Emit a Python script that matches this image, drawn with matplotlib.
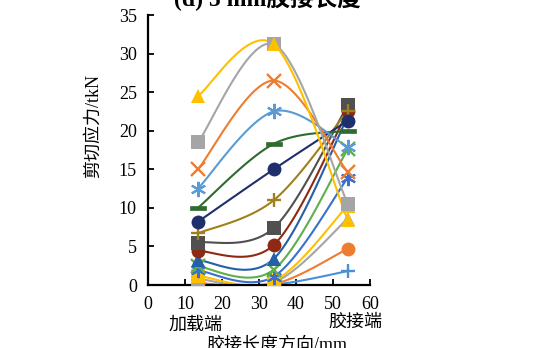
import numpy as np
import matplotlib
matplotlib.use("Agg")
import matplotlib.pyplot as plt

# ---- data ----
x_pos = [13.5, 34.0, 54.0]
series_colors = ["#FFC000", "#A5A5A5", "#ED7D31", "#5B9BD5", "#2E6B2E", "#1F2F6B",
                 "#A0801E", "#505050", "#8E2A14", "#2360A8", "#5DB04A", "#3A6FD0",
                 "#FFC000", "#A5A5A5", "#ED7D31", "#4A90D9"]
series_markers = ["^", "s", "x", "ast", "dash", "o", "+", "s", "o", "^", "x", "ast",
                  "s", "^", "o", "+"]
series_values = [
    [24.5, 31.2, 8.4],
    [18.5, 31.2, 10.5],
    [15.0, 26.5, 14.6],
    [12.5, 22.5, 17.9],
    [10.0, 18.3, 20.0],
    [8.2, 15.0, 21.3],
    [6.7, 11.0, 22.6],
    [5.5, 7.4, 23.3],
    [4.4, 5.2, 22.5],
    [3.2, 3.4, 21.8],
    [2.4, 2.0, 17.6],
    [1.9, 1.1, 13.9],
    [1.2, 0.5, 10.3],
    [0.8, 0.3, 8.6],
    [0.25, 0.1, 4.7],
    [0.05, 0.05, 1.8],
]
x_ticks = [0, 10, 20, 30, 40, 50, 60]
y_ticks = [0, 5, 10, 15, 20, 25, 30, 35]

title_text = "(d) 5 mm胶接长度"
ylabel_text = "剪切应力/tkN"
xlabel_text = "胶接长度方向/mm"
left_end_text = "加载端"
right_end_text = "胶接端"

FAM = ["Liberation Serif", "Noto Sans CJK SC"]
plt.rcParams['font.family'] = FAM


def smooth_curve(xs, ys, n=40):
    """Excel-like smoothed line (Catmull-Rom Bezier) through the data points."""
    pts = np.column_stack([xs, ys]).astype(float)
    out = []
    m = len(pts)
    for i in range(m - 1):
        p0 = pts[i - 1] if i > 0 else pts[i]
        p1 = pts[i]
        p2 = pts[i + 1]
        p3 = pts[i + 2] if i + 2 < m else pts[i + 1]
        c1 = p1 + (p2 - p0) / 6.0
        c2 = p2 - (p3 - p1) / 6.0
        t = np.linspace(0, 1, n)[:, None]
        seg = ((1 - t) ** 3) * p1 + 3 * ((1 - t) ** 2) * t * c1 + 3 * (1 - t) * t ** 2 * c2 + t ** 3 * p2
        out.append(seg if i == 0 else seg[1:])
    arr = np.vstack(out)
    return arr[:, 0], arr[:, 1]


dash_marker = [(-1, -0.32), (1, -0.32), (1, 0.32), (-1, 0.32), (-1, -0.32)]

fig = plt.figure(figsize=(5.48, 3.48), dpi=100)
ax = fig.add_axes([148 / 548, 63 / 348, 222 / 548, 270 / 348])

order = list(range(len(series_values)))[::-1]
for i in order:
    vals = series_values[i]
    c = series_colors[i]
    mk = series_markers[i]
    sx, sy = smooth_curve(x_pos, vals)
    ax.plot(sx, sy, color=c, lw=1.5, solid_capstyle='round', zorder=2)
    kw = dict(color=c, linestyle='none', zorder=3)
    if mk == "ast":
        ax.plot(x_pos, vals, marker=(6, 2, 0), markersize=11, markeredgewidth=1.5, **kw)
    elif mk == "dash":
        ax.plot(x_pos, vals, marker=dash_marker, markersize=11, markeredgewidth=0.5, **kw)
    elif mk in ("x", "+"):
        ax.plot(x_pos, vals, marker=mk, markersize=10.5, markeredgewidth=1.7, **kw)
    elif mk == "o":
        ax.plot(x_pos, vals, marker=mk, markersize=10, markeredgewidth=0, **kw)
    else:
        ax.plot(x_pos, vals, marker=mk, markersize=10, markeredgewidth=0, **kw)

ax.set_xlim(0, 60)
ax.set_ylim(0, 35)
ax.set_xticks(x_ticks)
ax.set_yticks(y_ticks)
ax.tick_params(direction='in', length=4, width=1.3, labelsize=13, pad=8, colors='black')
for s in ("top", "right"):
    ax.spines[s].set_visible(False)
for s in ("left", "bottom"):
    ax.spines[s].set_linewidth(1.6)
    ax.spines[s].set_color('black')
ax.patch.set_alpha(0)

fig.text(93 / 548, 1 - 126 / 348, ylabel_text, rotation=90, ha='center', va='center',
         fontsize=13, family=FAM, weight='medium')
fig.text(196 / 548, 1 - 325 / 348, left_end_text, ha='center', va='center', fontsize=13, family=FAM)
fig.text(355 / 548, 1 - 322 / 348, right_end_text, ha='center', va='center', fontsize=13, family=FAM)
fig.text(277 / 548, 1 - 337 / 348, xlabel_text, ha='center', va='top', fontsize=13, family=FAM)
fig.text(267 / 548, 1 - 6 / 348, title_text, ha='center', va='baseline', fontsize=17,
         family=FAM, weight='bold')

fig.savefig("out.png", dpi=100)
